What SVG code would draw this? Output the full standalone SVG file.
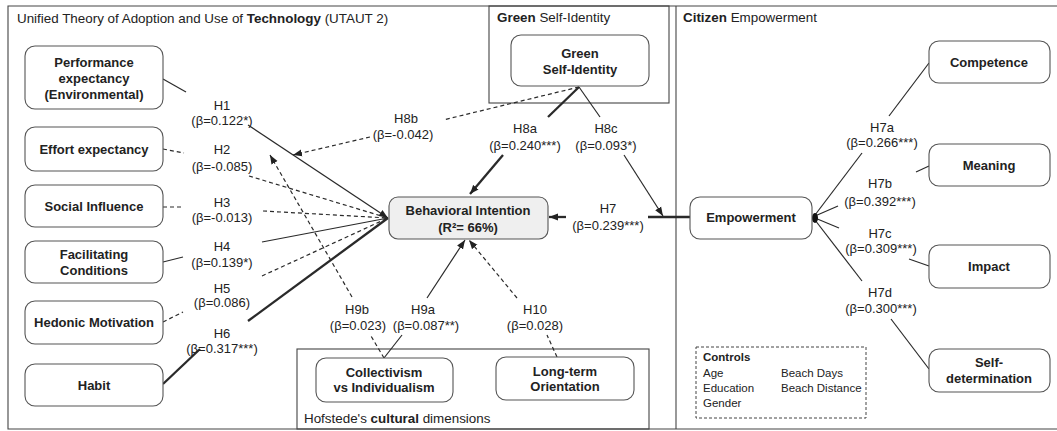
<svg xmlns="http://www.w3.org/2000/svg" width="1057" height="431" viewBox="0 0 1057 431">
<style>
text{font-family:"Liberation Sans",Arial,sans-serif;fill:#222;}
.t{font-size:13.4px;}
.n{font-size:13px;font-weight:bold;text-anchor:middle;}
.l{font-size:13px;text-anchor:middle;}
.c{font-size:11.5px;}
.box{fill:#fff;stroke:#555;stroke-width:1.1;}
.panel{fill:none;stroke:#444;stroke-width:1.1;}
.ln{fill:none;stroke:#2a2a2a;stroke-width:1.2;}
.dash{stroke-dasharray:4 3;}
.thick{stroke-width:2.3;}
</style>
<defs>
<marker id="ah" markerUnits="userSpaceOnUse" markerWidth="10" markerHeight="8" refX="9" refY="4" orient="auto">
<path d="M0,0.5 L9,4 L0,7.5 z" fill="#222"/>
</marker>
</defs>
<rect width="1057" height="431" fill="#fff"/>
<g id="frames">
<path class="panel" d="M1057,6 H8 V429 H1057"/>
<line class="panel" x1="676" y1="6" x2="676" y2="429"/>
<rect class="panel" x="489" y="6" width="180" height="97"/>
<rect class="panel" x="297" y="349" width="352" height="80"/>
<rect x="696" y="347" width="170" height="71" fill="none" stroke="#444" stroke-width="1" stroke-dasharray="3 2"/>
<text class="t" x="17" y="23">Unified  Theory of Adoption and Use of <tspan font-weight="bold">Technology</tspan> (UTAUT 2)</text>
<text class="t" x="497" y="22"><tspan font-weight="bold">Green</tspan> Self-Identity</text>
<text class="t" x="683" y="22"><tspan font-weight="bold">Citizen</tspan> Empowerment</text>
<text class="t" x="304" y="423">Hofstede's <tspan font-weight="bold">cultural</tspan> dimensions</text>
<text class="c" x="703" y="361" font-weight="bold">Controls</text>
<text class="c" x="703" y="377">Age</text>
<text class="c" x="703" y="392">Education</text>
<text class="c" x="703" y="407">Gender</text>
<text class="c" x="781" y="377">Beach Days</text>
<text class="c" x="781" y="392">Beach Distance</text>
</g>
<g id="connectors">
<path class="ln" d="M163,79 L186,92"/>
<path class="ln" d="M248,125 L388,218" marker-end="url(#ah)"/>
<path class="ln dash" d="M163,149 L184,153"/>
<path class="ln dash" d="M249,176 L388,218"/>
<path class="ln dash" d="M163,207 L184,207"/>
<path class="ln dash" d="M263,211 L388,218"/>
<path class="ln" d="M163,262 L183,257"/>
<path class="ln" d="M262,242 L388,218"/>
<path class="ln dash" d="M163,322 L183,312"/>
<path class="ln dash" d="M262,276 L388,218"/>
<path class="ln thick" d="M163,384 L200,349"/>
<path class="ln thick" d="M248,321 L388,218"/>
<path class="ln dash" d="M579,87 L443,120"/>
<path class="ln dash" d="M370,137 L293,155" marker-end="url(#ah)"/>
<path class="ln thick" d="M579,87 L548,117"/>
<path class="ln thick" d="M503,155 L470,194" marker-end="url(#ah)"/>
<path class="ln" d="M579,87 L600,117"/>
<path class="ln" d="M624,155 L663,216" marker-end="url(#ah)"/>
<path class="ln thick" d="M690,217 L648,217"/>
<path class="ln thick" d="M566,217 L549,217" marker-end="url(#ah)"/>
<path class="ln dash" d="M384,358 L371,336"/>
<path class="ln dash" d="M352,297 L270,155" marker-end="url(#ah)"/>
<path class="ln" d="M384,358 L402,335"/>
<path class="ln" d="M427,298 L465,240" marker-end="url(#ah)"/>
<path class="ln dash" d="M557,357 L547,335"/>
<path class="ln dash" d="M517,298 L469,240" marker-end="url(#ah)"/>
<path class="ln" d="M929,63 L889,116"/>
<path class="ln" d="M862,153 L815,215"/>
<path class="ln" d="M929,166 L916,172"/>
<path class="ln" d="M838,206 L815,216"/>
<path class="ln" d="M815,218 L839,228"/>
<path class="ln" d="M909,259 L929,266"/>
<path class="ln" d="M815,220 L862,281"/>
<path class="ln" d="M891,319 L929,369"/>
<ellipse cx="815" cy="218" rx="3" ry="5" fill="#111"/>
</g>
<g id="labels">
<text class="l" x="222" y="110">H1</text><text class="l" x="222" y="125">(β=0.122*)</text>
<text class="l" x="222" y="154">H2</text><text class="l" x="222" y="171">(β=-0.085)</text>
<text class="l" x="222" y="207">H3</text><text class="l" x="222" y="222">(β=-0.013)</text>
<text class="l" x="222" y="251">H4</text><text class="l" x="222" y="267">(β=0.139*)</text>
<text class="l" x="222" y="293">H5</text><text class="l" x="222" y="307">(β=0.086)</text>
<text class="l" x="222" y="338">H6</text><text class="l" x="222" y="353">(β=0.317***)</text>
<text class="l" x="406" y="123">H8b</text><text class="l" x="403" y="139">(β=-0.042)</text>
<text class="l" x="525" y="133">H8a</text><text class="l" x="525" y="150">(β=0.240***)</text>
<text class="l" x="606" y="133">H8c</text><text class="l" x="606" y="150">(β=0.093*)</text>
<text class="l" x="608" y="213">H7</text><text class="l" x="608" y="230">(β=0.239***)</text>
<text class="l" x="357" y="314">H9b</text><text class="l" x="358" y="330">(β=0.023)</text>
<text class="l" x="423" y="314">H9a</text><text class="l" x="426" y="330">(β=0.087**)</text>
<text class="l" x="535" y="314">H10</text><text class="l" x="535" y="330">(β=0.028)</text>
<text class="l" x="882" y="132">H7a</text><text class="l" x="882" y="147">(β=0.266***)</text>
<text class="l" x="880" y="188">H7b</text><text class="l" x="880" y="206">(β=0.392***)</text>
<text class="l" x="880" y="238">H7c</text><text class="l" x="881" y="253">(β=0.309***)</text>
<text class="l" x="880" y="297">H7d</text><text class="l" x="881" y="313">(β=0.300***)</text>
</g>
<g id="node-pe"><rect class="box" x="25" y="46" width="138" height="63" rx="10"/><text class="n" x="94" y="67">Performance</text><text class="n" x="94" y="83">expectancy</text><text class="n" x="94" y="99">(Environmental)</text></g>
<g id="node-ee"><rect class="box" x="25" y="127" width="138" height="44" rx="10"/><text class="n" x="94" y="154">Effort expectancy</text></g>
<g id="node-si"><rect class="box" x="25" y="185" width="138" height="42" rx="10"/><text class="n" x="94" y="211">Social Influence</text></g>
<g id="node-fc"><rect class="box" x="25" y="241" width="138" height="42" rx="10"/><text class="n" x="94" y="259">Facilitating</text><text class="n" x="94" y="275">Conditions</text></g>
<g id="node-hm"><rect class="box" x="25" y="301" width="138" height="43" rx="10"/><text class="n" x="94" y="327">Hedonic Motivation</text></g>
<g id="node-habit"><rect class="box" x="25" y="364" width="138" height="42" rx="10"/><text class="n" x="94" y="390">Habit</text></g>
<g id="node-gsi"><rect class="box" x="511" y="35" width="138" height="51" rx="10"/><text class="n" x="580" y="58">Green</text><text class="n" x="580" y="74">Self-Identity</text></g>
<g id="node-bi"><rect x="389" y="197" width="159" height="42" rx="9" fill="#efefef" stroke="#555" stroke-width="1.1"/><text class="n" x="468" y="215">Behavioral Intention</text><text class="n" x="468" y="232">(R²= 66%)</text></g>
<g id="node-emp"><rect class="box" x="690" y="197" width="122" height="42" rx="10"/><text class="n" x="751" y="222">Empowerment</text></g>
<g id="node-comp"><rect class="box" x="929" y="41" width="121" height="42" rx="10"/><text class="n" x="989" y="67">Competence</text></g>
<g id="node-mean"><rect class="box" x="929" y="144" width="121" height="42" rx="10"/><text class="n" x="989" y="170">Meaning</text></g>
<g id="node-imp"><rect class="box" x="929" y="245" width="121" height="43" rx="10"/><text class="n" x="989" y="271">Impact</text></g>
<g id="node-sd"><rect class="box" x="929" y="349" width="121" height="43" rx="10"/><text class="n" x="989" y="367">Self-</text><text class="n" x="989" y="383">determination</text></g>
<g id="node-coll"><rect class="box" x="316" y="358" width="137" height="44" rx="10"/><text class="n" x="384" y="377">Collectivism</text><text class="n" x="384" y="392">vs  Individualism</text></g>
<g id="node-lto"><rect class="box" x="496" y="357" width="138" height="43" rx="10"/><text class="n" x="565" y="376">Long-term</text><text class="n" x="565" y="391">Orientation</text></g>
</svg>
